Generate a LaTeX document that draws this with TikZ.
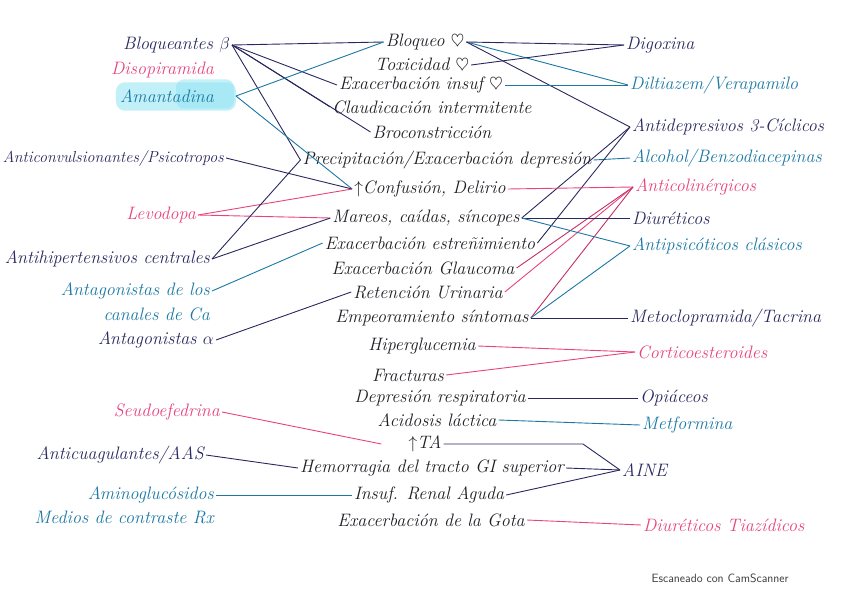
\documentclass[tikz,border=0pt]{standalone}
\usepackage{fontspec}
\usepackage{amsmath,amssymb}
\usetikzlibrary{backgrounds}
\definecolor{ink}{HTML}{1E1E24}
\definecolor{navy}{HTML}{29285F}
\definecolor{teal}{HTML}{1B78A4}
\definecolor{pinky}{HTML}{E8437F}
\definecolor{plum}{HTML}{C12F68}
\definecolor{hl}{HTML}{8FE3F2}
\definecolor{scan}{HTML}{3A3A3A}

\begin{document}
\begin{tikzpicture}[x=1pt,y=-1pt,
  hand/.style={font=\fontsize{18}{20}\selectfont\itshape,inner sep=2pt},
  lft/.style={hand,anchor=east},
  rgt/.style={hand,anchor=west},
  mid/.style={hand,text=ink},
  nv/.style={draw=navy,line width=0.9pt},
  tl/.style={draw=teal,line width=0.9pt},
  pk/.style={draw=pinky,line width=0.9pt},
  pl/.style={draw=plum,line width=0.9pt}]
\useasboundingbox (0,0) rectangle (848,599);
% left column
\node[lft,text=navy] (bb) at (232,45) {Bloqueantes $\beta$};
\node[lft,text=pinky] (diso) at (216,70) {Disopiramida};
\node[lft,text=teal] (ama) at (216,96) {Amantadina};
\node[lft,text=navy,font=\fontsize{16}{18}\selectfont\itshape] (acp) at (226,158) {Anticonvulsionantes/Psicotropos};
\node[lft,text=pinky] (levo) at (198,215) {Levodopa};
\node[lft,text=navy] (ahc) at (212,259) {Antihipertensivos centrales};
\node[lft,text=teal] (aca) at (212,291) {Antagonistas de los};
\node[lft,text=teal] (aca2) at (212,314) {canales de Ca};
\node[lft,text=navy] (aalf) at (216,340) {Antagonistas $\alpha$};
\node[lft,text=pinky] (seu) at (222,412) {Seudoefedrina};
\node[lft,text=navy] (aas) at (206,455) {Anticuagulantes/AAS};
\node[lft,text=teal] (amg) at (216,495) {Aminoglucósidos};
\node[lft,text=teal] (mcr) at (216,517) {Medios de contraste Rx};
% middle column
\node[mid] (bq) at (425,42) {Bloqueo $\heartsuit$};
\node[mid] (tox) at (422,65) {Toxicidad $\heartsuit$};
\node[mid] (eic) at (421,85) {Exacerbación insuf $\heartsuit$};
\node[mid] (cla) at (432,107) {Claudicación intermitente};
\node[mid] (bro) at (432,132) {Broconstricción};
\node[mid] (dep) at (447,160) {Precipitación/Exacerbación depresión};
\node[mid] (con) at (430,189) {$\uparrow$Confusión, Delirio};
\node[mid] (mar) at (426,218) {Mareos, caídas, síncopes};
\node[mid] (est) at (430,243) {Exacerbación estreñimiento};
\node[mid] (gla) at (423,268) {Exacerbación Glaucoma};
\node[mid] (ret) at (428,292) {Retención Urinaria};
\node[mid] (emp) at (432,318) {Empeoramiento síntomas};
\node[mid] (hip) at (422,346) {Hiperglucemia};
\node[mid] (fra) at (408,375) {Fracturas};
\node[mid] (drs) at (440,398) {Depresión respiratoria};
\node[mid] (aci) at (437,420) {Acidosis láctica};
\node[mid] (ta) at (425,444) {$\uparrow$TA};
\node[mid] (hem) at (432,468) {Hemorragia del tracto GI superior};
\node[mid] (ira) at (429,495) {Insuf. Renal Aguda};
\node[mid] (gota) at (431,520) {Exacerbación de la Gota};
% right column
\node[rgt,text=navy] (dig) at (624,45) {Digoxina};
\node[rgt,text=teal] (dil) at (628,85) {Diltiazem/Verapamilo};
\node[rgt,text=navy] (a3c) at (630,127) {Antidepresivos 3-Cíclicos};
\node[rgt,text=teal] (alc) at (630,158) {Alcohol/Benzodiacepinas};
\node[rgt,text=pinky] (acol) at (633,187) {Anticolinérgicos};
\node[rgt,text=navy] (diu) at (630,218) {Diuréticos};
\node[rgt,text=teal] (aps) at (630,246) {Antipsicóticos clásicos};
\node[rgt,text=navy] (met) at (628,318) {Metoclopramida/Tacrina};
\node[rgt,text=pinky] (cort) at (635,352) {Corticoesteroides};
\node[rgt,text=navy] (opi) at (638,398) {Opiáceos};
\node[rgt,text=teal] (metf) at (640,425) {Metformina};
\node[rgt,text=navy] (aine) at (620,470) {AINE};
\node[rgt,text=pinky] (tia) at (641,525) {Diuréticos Tiazídicos};
\node[font=\fontsize{12}{14}\selectfont\sffamily,text=scan,anchor=west] (cs) at (648,578) {Escaneado con CamScanner};
\begin{scope}[on background layer]
\fill[hl,opacity=0.55,rounded corners=9pt] ([xshift=-2pt,yshift=5pt]ama.north west) rectangle ([xshift=20pt,yshift=-6pt]ama.south east);
\fill[hl,opacity=0.5,rounded corners=8pt] ([xshift=-40pt,yshift=8pt]ama.north east) rectangle ([xshift=18pt,yshift=-4pt]ama.south east);
\end{scope}
% left links
\draw[nv] (bb.east) -- (bq.west);
\draw[nv] (bb.east) -- (eic.west);
\draw[nv] (bb.east) -- (cla.west);
\draw[nv] (bb.east) -- (bro.west);
\draw[nv] (bb.east) -- (dep.west);
\draw[tl] ([xshift=20pt]ama.east) -- (bq.west);
\draw[tl] ([xshift=20pt]ama.east) -- (con.west);
\draw[nv] (acp.east) -- (con.west);
\draw[pk] (levo.east) -- (con.west);
\draw[pk] (levo.east) -- (mar.west);
\draw[nv] (ahc.east) -- (dep.west);
\draw[nv] (ahc.east) -- (mar.west);
\draw[tl] (aca.east) -- (est.west);
\draw[nv] (aalf.east) -- (ret.west);
\draw[pk] (seu.east) -- ([xshift=-25pt]ta.west);
\draw[nv] (aas.east) -- (hem.west);
\draw[tl] (amg.east) -- (ira.west);
% right links
\draw[nv] (bq.east) -- (dig.west);
\draw[tl] (bq.east) -- (dil.west);
\draw[nv] (bq.east) -- (a3c.west);
\draw[nv] (tox.east) -- (dig.west);
\draw[tl] (eic.east) -- (dil.west);
\draw[tl] (dep.east) -- (alc.west);
\draw[nv] (a3c.west) -- (mar.east);
\draw[nv] (a3c.west) -- (est.east);
\draw[pk] (acol.west) -- (con.east);
\draw[pl] (acol.west) -- (gla.east);
\draw[pk] (acol.west) -- (ret.east);
\draw[pl] (acol.west) -- (emp.east);
\draw[nv] (diu.west) -- (mar.east);
\draw[tl] (mar.east) -- (aps.west);
\draw[tl] (aps.west) -- (emp.east);
\draw[nv] (met.west) -- (emp.east);
\draw[pk] (cort.west) -- (hip.east);
\draw[pk] (cort.west) -- (fra.east);
\draw[nv] (opi.west) -- (drs.east);
\draw[tl] (metf.west) -- (aci.east);
\coordinate (tabend) at (583,446);
\draw[nv] (ta.east) -- (ta.east -| tabend) -- (aine.west);
\draw[nv] (hem.east) -- (aine.west);
\draw[nv] (ira.east) -- (aine.west);
\draw[pk] (gota.east) -- (tia.west);
\end{tikzpicture}
\end{document}
